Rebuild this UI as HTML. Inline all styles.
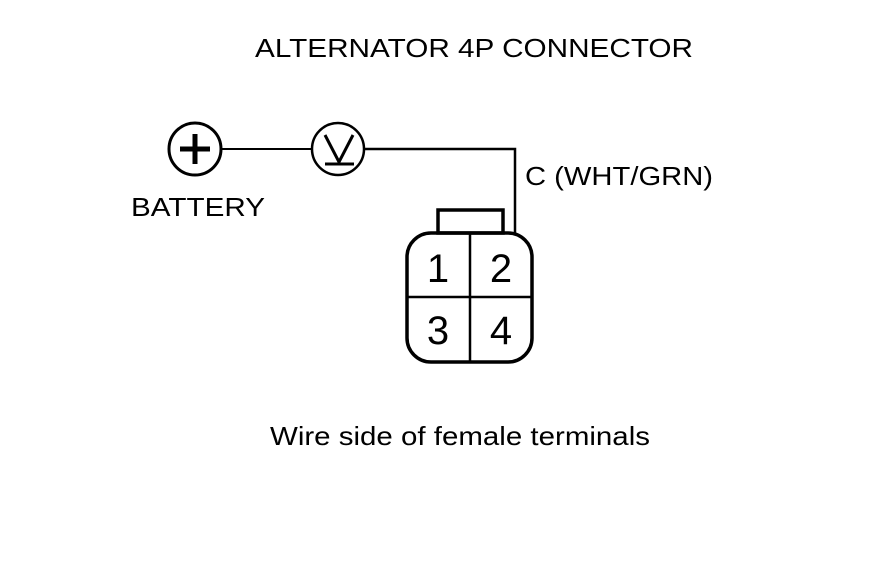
<!DOCTYPE html>
<html><head><style>html,body{margin:0;padding:0;background:#fff;}</style></head>
<body>
<svg width="880" height="578" viewBox="0 0 880 578" xmlns="http://www.w3.org/2000/svg" style="display:block">
<g font-family="Liberation Sans, Arial, sans-serif" fill="#000">
<text x="255" y="57" font-size="26" textLength="438" lengthAdjust="spacingAndGlyphs">ALTERNATOR 4P CONNECTOR</text>
<text x="525" y="185" font-size="26" textLength="188" lengthAdjust="spacingAndGlyphs">C (WHT/GRN)</text>
<text x="131" y="216" font-size="26" textLength="134" lengthAdjust="spacingAndGlyphs">BATTERY</text>
<text x="270" y="445" font-size="26" textLength="380" lengthAdjust="spacingAndGlyphs">Wire side of female terminals</text>
<text x="438" y="282" font-size="40" text-anchor="middle">1</text>
<text x="501" y="282" font-size="40" text-anchor="middle">2</text>
<text x="438" y="344" font-size="40" text-anchor="middle">3</text>
<text x="501" y="344" font-size="40" text-anchor="middle">4</text>
</g>
<g fill="none" stroke="#000">
<circle cx="195" cy="149" r="26" stroke-width="3"/>
<line x1="180" y1="149" x2="210" y2="149" stroke-width="5"/>
<line x1="195" y1="134" x2="195" y2="164" stroke-width="5"/>
<circle cx="338" cy="149" r="26" stroke-width="2.5"/>
<polyline points="325,135 339,162 353,135" stroke-width="3"/>
<line x1="325" y1="164" x2="354" y2="164" stroke-width="3"/>
<polyline points="222,149 312,149" stroke-width="2"/>
<polyline points="364,149 515,149 515,233" stroke-width="2.5"/>
<rect x="438" y="210" width="65" height="23" stroke-width="3.5"/>
<rect x="407" y="233" width="125" height="129" rx="24" stroke-width="3.5"/>
<line x1="470" y1="233" x2="470" y2="362" stroke-width="2.5"/>
<line x1="407" y1="297" x2="532" y2="297" stroke-width="2.5"/>
</g>
</svg>
</body></html>
